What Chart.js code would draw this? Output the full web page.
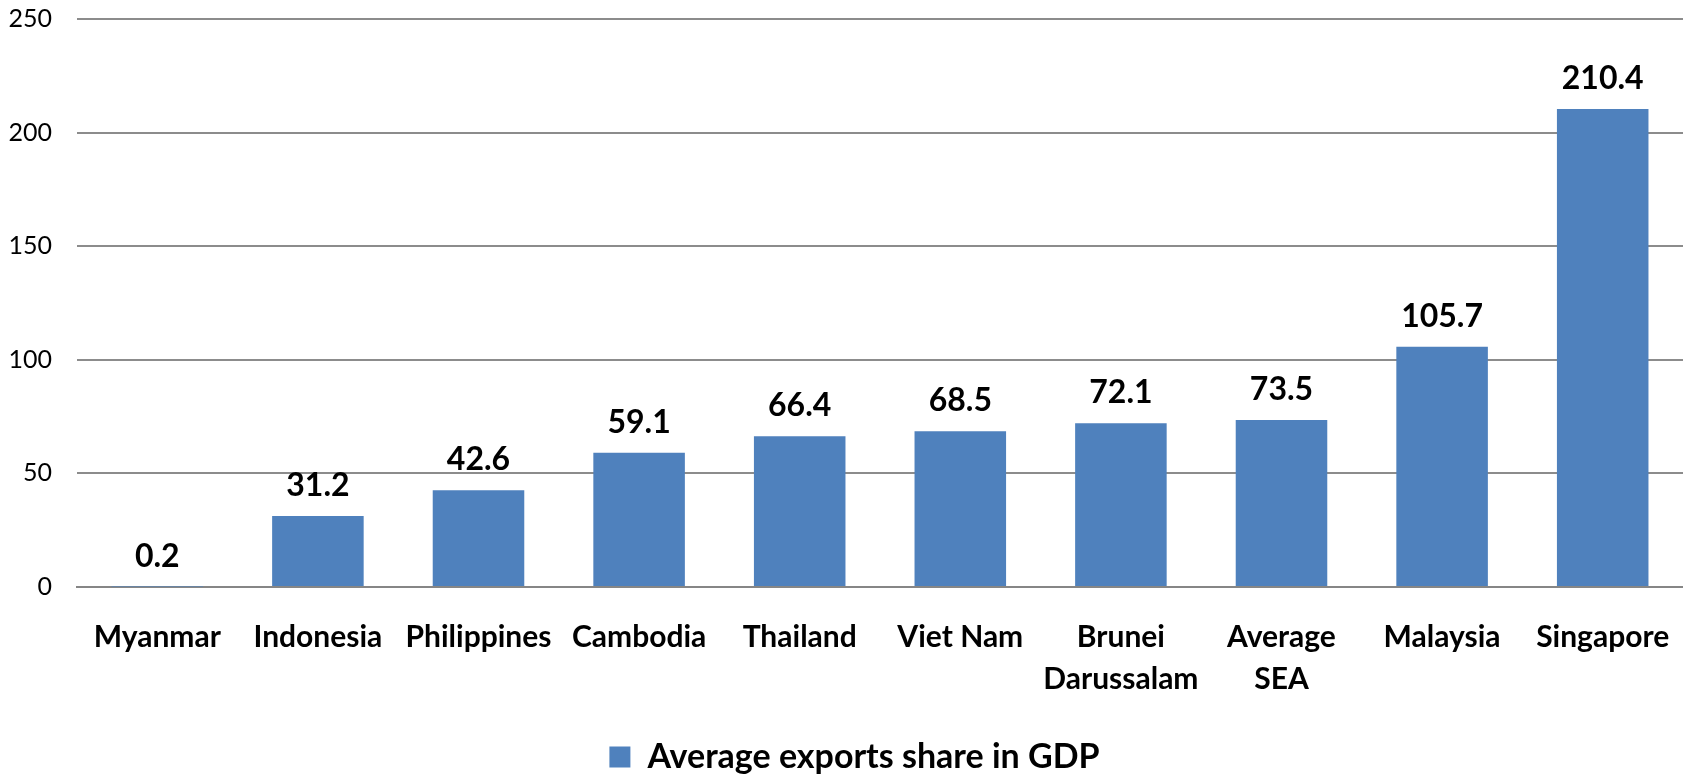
<!DOCTYPE html>
<html>
<head>
<meta charset="utf-8">
<script src="https://cdn.jsdelivr.net/npm/chart.js@4.4.1/dist/chart.umd.min.js"></script>
<style>
  html, body { margin: 0; padding: 0; background: #fff; }
  #wrap { width: 1683px; height: 774px; }
</style>
</head>
<body>
<div id="wrap"><canvas id="exports-chart" width="1683" height="774"></canvas></div>
<script>
// Average exports share in GDP, SEA countries
var countries = ['Myanmar', 'Indonesia', 'Philippines', 'Cambodia', 'Thailand', 'Viet Nam',
	['Brunei', 'Darussalam'], ['Average', 'SEA'], 'Malaysia', 'Singapore'];
var exportShare = [0.2, 31.2, 42.6, 59.1, 66.4, 68.5, 72.1, 73.5, 105.7, 210.4];
var yTicks = [0, 50, 100, 150, 200, 250];
var seriesName = 'Average exports share in GDP';

var FONT = 'Lato, "Open Sans", sans-serif';

// writes the value above each bar
var barValues = {
	id: 'barValues',
	afterDatasetsDraw: function(chart) {
		var ctx = chart.ctx;
		var meta = chart.getDatasetMeta(0);
		ctx.save();
		ctx.font = 'bold 32px ' + FONT;
		ctx.fillStyle = '#000';
		ctx.textAlign = 'center';
		ctx.textBaseline = 'alphabetic';
		meta.data.forEach(function(bar, i) {
			ctx.fillText(exportShare[i].toFixed(1), bar.x, bar.y - 20);
		});
		ctx.restore();
	}
};

// push the legend a little down and to the right
var legendNudge = {
	id: 'legendNudge',
	afterLayout: function(chart) {
		var lg = chart.legend;
		if (lg) {
			lg.top += 10;
			lg.bottom += 10;
			lg.left += 13;
			lg.right += 13;
		}
	}
};

var ctx = document.getElementById('exports-chart').getContext('2d');

var myChart = new Chart(ctx, {
	type: 'bar',
	data: {
		labels: countries,
		datasets: [{
			label: seriesName,
			data: exportShare,
			backgroundColor: '#4f81bd',
			borderWidth: 0,
			barPercentage: 0.57,
			categoryPercentage: 1.0
		}]
	},
	options: {
		responsive: false,
		animation: false,
		layout: {
			padding: { top: 19, right: 0, left: 0, bottom: 0 }
		},
		plugins: {
			legend: {
				display: true,
				position: 'bottom',
				labels: {
					color: '#000',
					font: { family: FONT, size: 34, weight: 'bold' },
					boxWidth: 21,
					boxHeight: 21,
					padding: 0
				}
			},
			tooltip: { enabled: false }
		},
		scales: {
			x: {
				grid: { display: false, drawTicks: false },
				border: { display: true, color: '#868686', width: 2 },
				ticks: {
					color: '#000',
					font: { family: FONT, size: 30, weight: 'bold', lineHeight: 1.4 },
					padding: 29,
					maxRotation: 0,
					autoSkip: false
				},
				afterFit: function(scale) {
					scale.height = 143;
					scale.paddingLeft = 0;
					scale.paddingRight = 0;
				}
			},
			y: {
				min: 0,
				max: 250,
				afterBuildTicks: function(scale) {
					scale.ticks = yTicks.map(function(v) { return { value: v }; });
				},
				grid: { color: '#8c8c8c', lineWidth: 2, drawTicks: false },
				border: { display: false },
				ticks: {
					color: '#000',
					font: { family: FONT, size: 25 },
					padding: 25
				},
				afterFit: function(scale) {
					scale.width = 77;
					scale.paddingTop = 0;
					scale.paddingBottom = 0;
				}
			}
		}
	},
	plugins: [barValues, legendNudge]
});
</script>
</body>
</html>
